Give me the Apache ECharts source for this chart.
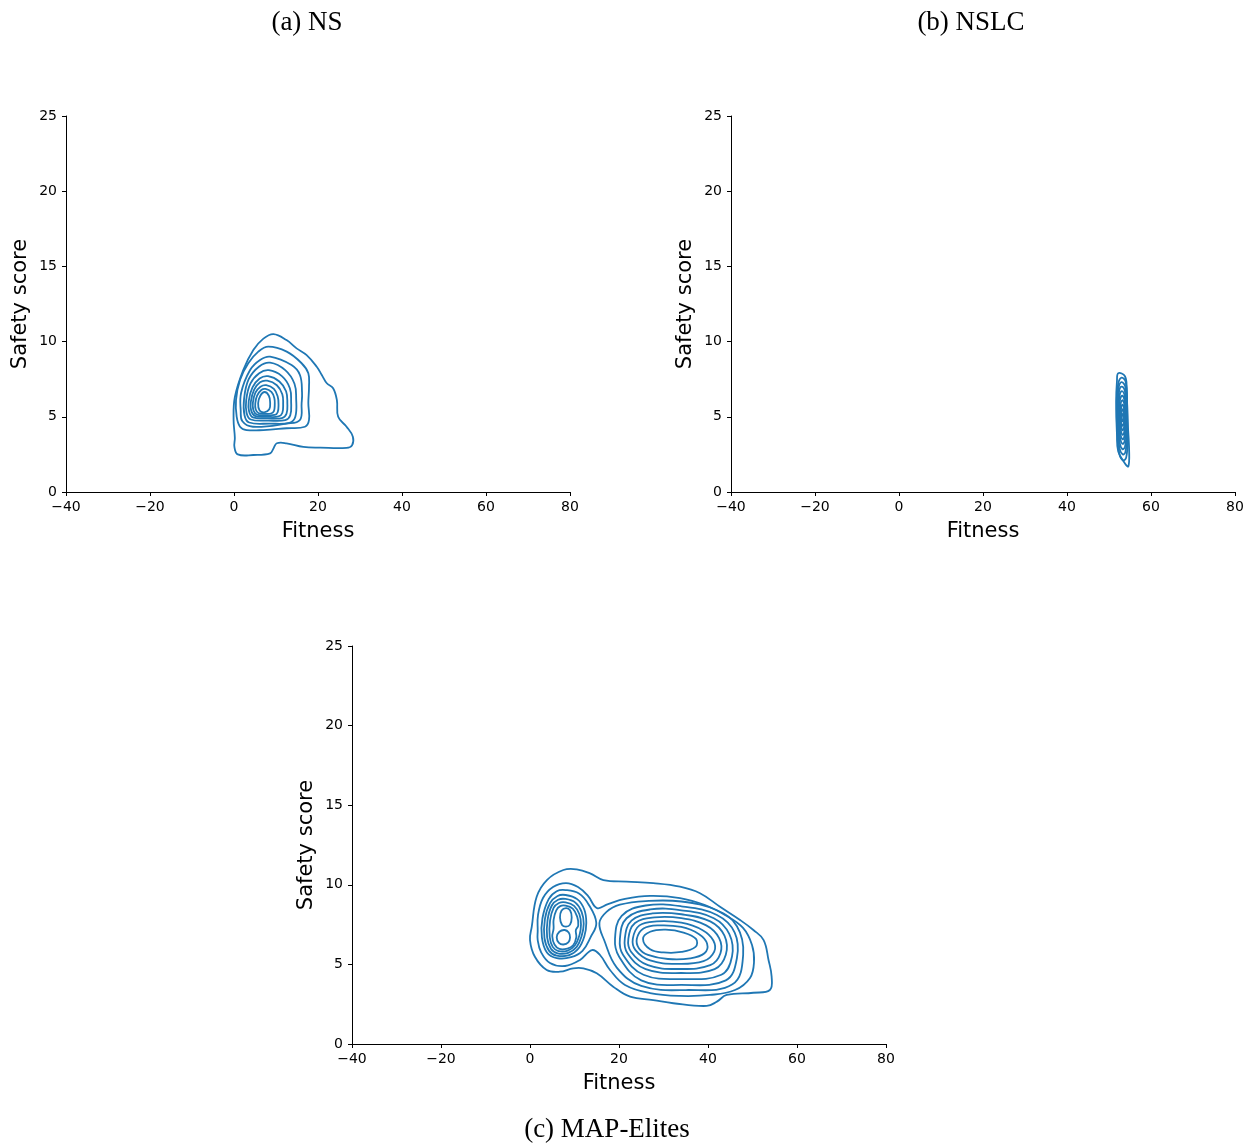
<!DOCTYPE html>
<html>
<head>
<meta charset="utf-8">
<title>Fitness vs safety score</title>
<script src="https://cdn.jsdelivr.net/npm/echarts@6/dist/echarts.min.js"></script>
<style>
  html, body { margin: 0; padding: 0; background: #fff; }
  #chart { width: 1252px; height: 1146px; }
</style>
</head>
<body>
<div id="chart"></div>
<script>
// tick values
const xTicks = [-40, -20, 0, 20, 40, 60, 80]
const yTicks = [0, 5, 10, 15, 20, 25]

// (a) NS - kde contour lines, outer to inner, [fitness, safety]
const nsContours = [
  [[9.4,10.5],[12.5,10.1],[14.9,9.55],[17.3,9.1],[19.7,8.33],[20.9,7.78],[22.1,7.23],[23.6,6.9],[24.5,6.1],[24.8,5.0],[26.8,4.34],[28.3,3.68],[28.1,3.1],[26.8,2.93],[20.5,2.95],[16.5,3.0],[12.5,3.24],[10.2,3.24],[9.4,2.9],[8.6,2.57],[4.6,2.46],[0.9,2.5],[0.1,3.0],[0.2,3.6],[-0.1,4.8],[0.2,6.3],[2.2,8.1],[4.6,9.44],[7,10.2]],
  [[8.17,9.66],[12.55,9.33],[16.1,8.56],[17.7,7.89],[17.86,7.0],[17.7,5.9],[17.86,4.79],[16.9,4.34],[12.55,4.24],[7.0,4.12],[3.0,4.12],[1.43,4.34],[0.64,5.0],[0.48,6.12],[1.43,7.45],[3.4,8.56],[5.79,9.33]],
  [[8.6,9.0],[13.7,8.44],[15.7,7.78],[16.2,6.6],[16.1,5.9],[15.7,4.79],[12.5,4.55],[4.5,4.34],[2.0,4.7],[1.6,5.4],[1.7,6.6],[3.8,8.1],[6.2,8.78]],
  [[8.6,8.6],[12.2,8.1],[14.4,7.2],[14.8,6.2],[14.6,5.0],[13.2,4.6],[8.5,4.55],[3.6,4.62],[2.5,5.1],[2.4,6.2],[3.5,7.5],[6.0,8.35]],
  [[8.3,8.1],[11.4,7.7],[13.3,6.9],[13.6,6.0],[13.4,5.1],[12.2,4.78],[8.2,4.75],[4.0,4.82],[3.0,5.25],[2.9,6.1],[3.9,7.2],[6.0,7.9]],
  [[8.1,7.7],[10.8,7.35],[12.4,6.7],[12.7,5.9],[12.5,5.2],[11.4,4.92],[8.0,4.9],[4.5,4.96],[3.6,5.35],[3.5,6.05],[4.4,6.95],[6.1,7.55]],
  [[7.9,7.4],[10.2,7.1],[11.5,6.5],[11.7,5.85],[11.5,5.25],[10.6,5.02],[7.8,5.0],[5.0,5.06],[4.1,5.4],[4.0,6.0],[4.8,6.8],[6.2,7.3]],
  [[7.7,7.1],[9.5,6.85],[10.4,6.35],[10.6,5.8],[10.4,5.3],[9.7,5.12],[7.6,5.1],[5.4,5.15],[4.6,5.45],[4.5,5.95],[5.1,6.6],[6.3,7.0]],
  [[7.5,6.85],[8.9,6.65],[9.6,6.25],[9.7,5.8],[9.5,5.38],[8.8,5.22],[7.4,5.2],[5.8,5.25],[5.15,5.5],[5.07,5.9],[5.5,6.4],[6.5,6.78]],
  [[7.3,6.65],[8.3,6.4],[8.6,5.95],[8.4,5.5],[7.2,5.3],[6.1,5.42],[5.75,5.9],[6.3,6.42]]
]

// (b) NSLC
const nslcContours = [
  [[52.2,7.9],[53.8,7.7],[54.2,6.9],[54.4,4.9],[54.8,2.7],[54.6,1.7],[53.8,1.9],[52.2,2.7],[51.9,3.8],[51.7,6.0],[51.9,7.4]],
  [[53.0,7.6],[54.0,7.3],[54.3,6.0],[54.45,3.5],[54.1,2.3],[53.4,2.1],[52.5,2.5],[51.95,4.0],[51.85,6.0],[52.2,7.2]],
  [[53.0,7.3],[53.9,7.0],[54.2,5.9],[54.3,3.6],[53.9,2.65],[53.3,2.5],[52.5,2.9],[52.1,4.0],[52.0,5.9],[52.3,6.95]],
  [[53.0,7.0],[53.8,6.7],[54.05,5.8],[54.15,3.8],[53.8,3.0],[53.2,2.85],[52.6,3.2],[52.25,4.1],[52.15,5.8],[52.4,6.7]],
  [[53.05,6.7],[53.7,6.45],[53.95,5.6],[54.0,4.0],[53.7,3.35],[53.2,3.2],[52.7,3.5],[52.35,4.2],[52.3,5.6],[52.5,6.4]],
  [[53.1,6.4],[53.65,6.15],[53.85,5.5],[53.9,4.2],[53.6,3.62],[53.2,3.5],[52.75,3.8],[52.5,4.4],[52.45,5.5],[52.6,6.1]],
  [[53.15,6.1],[53.6,5.9],[53.75,5.3],[53.8,4.4],[53.55,3.9],[53.2,3.8],[52.85,4.05],[52.65,4.6],[52.6,5.3],[52.75,5.85]],
  [[53.2,5.8],[53.55,5.6],[53.68,5.1],[53.7,4.6],[53.5,4.2],[53.2,4.1],[52.95,4.3],[52.78,4.7],[52.75,5.1],[52.9,5.6]],
  [[53.25,5.5],[53.5,5.35],[53.6,5.0],[53.55,4.6],[53.3,4.4],[53.0,4.5],[52.9,4.8],[52.95,5.25]],
  [[53.25,5.2],[53.45,5.1],[53.5,4.95],[53.4,4.75],[53.2,4.7],[53.05,4.8],[53.0,4.95],[53.1,5.12]]
]

// (c) MAP-Elites
const meContours = [
  // outer and second level (both lobes)
  [[7.5,10.93],[10.5,10.97],[13.5,10.72],[16.5,10.3],[21.7,10.2],[27.7,10.1],[33.7,9.88],[38.2,9.47],[42.7,8.62],[47.2,7.79],[50.2,7.16],[52.5,6.53],[53.6,5.28],[54.3,4.23],[53.9,3.39],[50.2,3.22],[44.2,3.08],[42.0,2.66],[39.7,2.39],[32.2,2.56],[27.7,2.76],[22.5,2.97],[18.7,3.6],[15.0,4.44],[12.0,4.75],[9.7,4.75],[6.7,4.54],[3.75,4.65],[1.1,5.48],[0,6.53],[0.4,7.37],[1.5,9.25],[3.8,10.3]],
  [[1.73,7.1],[1.8,8.1],[2.92,9.17],[5.17,9.86],[8.09,10.11],[10.79,9.86],[13.03,9.3],[15.06,8.54],[17.53,8.79],[21.35,9.11],[26.97,9.3],[33.71,9.17],[39.33,8.73],[43.82,8.1],[47.87,7.29],[49.89,6.22],[50.34,5.15],[49.44,4.15],[46.07,3.39],[40.45,3.08],[33.71,3.02],[26.97,3.2],[21.35,3.71],[17.98,4.65],[15.73,5.59],[13.93,5.9],[11.24,5.28],[7.87,4.9],[4.49,5.09],[2.47,5.78],[1.73,6.53]],
  // left lobe
  [[8.0,9.67],[11.0,9.45],[13.2,8.75],[14.9,7.6],[13.6,6.7],[11.8,5.85],[9.2,5.45],[6.0,5.4],[3.8,5.75],[2.67,6.7],[2.8,7.9],[4.2,9.1],[6.0,9.6]],
  [[8.0,9.36],[10.6,9.1],[12.2,8.45],[12.65,7.6],[12.2,6.75],[10.9,6.0],[8.8,5.58],[6.0,5.55],[4.3,5.85],[3.25,6.65],[3.35,7.85],[4.5,8.85],[6.2,9.3]],
  [[8.0,9.11],[10.2,8.88],[11.6,8.3],[12.07,7.55],[11.6,6.78],[10.5,6.1],[8.6,5.73],[6.2,5.7],[4.7,5.98],[3.85,6.7],[3.95,7.8],[4.9,8.7],[6.3,9.06]],
  [[8.0,8.9],[9.9,8.68],[11.1,8.15],[11.46,7.5],[11.1,6.82],[10.1,6.2],[8.5,5.87],[6.4,5.84],[5.1,6.1],[4.43,6.72],[4.5,7.75],[5.3,8.55],[6.5,8.86]],
  [[8.0,8.69],[9.6,8.5],[10.6,8.0],[10.85,7.45],[10.3,7.15],[10.4,6.7],[9.7,6.2],[8.4,5.99],[6.6,5.97],[5.5,6.25],[5.01,6.75],[5.3,7.25],[5.3,7.8],[5.9,8.4],[6.8,8.66]],
  [[8.1,8.54],[9.0,8.4],[9.37,7.95],[9.0,7.5],[8.1,7.37],[7.2,7.48],[6.74,7.95],[7.1,8.38]],
  [[7.8,7.16],[8.7,7.0],[9.0,6.7],[8.6,6.38],[7.5,6.25],[6.5,6.35],[6.0,6.7],[6.6,7.05]],
  // right lobe
  [[15.6,7.6],[17.2,8.3],[20.2,8.75],[26,8.98],[34,8.95],[42,8.4],[46.5,7.4],[47.9,5.6],[45.5,3.75],[35,3.39],[25,3.65],[19.5,4.8],[16.7,6.5]],
  [[19.1,6.6],[20.6,8.05],[26,8.7],[34,8.65],[42,8.1],[46,7.0],[46.5,5.4],[44,4.0],[34,3.71],[25,4.0],[20,5.5]],
  [[20.2,6.6],[21.7,7.9],[27,8.45],[34,8.4],[41.3,7.9],[44.8,6.9],[45.4,5.5],[43,4.35],[34,4.08],[25.5,4.35],[20.9,5.6]],
  [[21.3,6.6],[22.8,7.75],[27.5,8.2],[34,8.15],[40.5,7.7],[43.7,6.8],[44.0,5.6],[41.5,4.7],[34,4.46],[26,4.7],[21.9,5.7]],
  [[22.1,6.6],[23.6,7.6],[28,7.95],[34,7.9],[39.6,7.45],[42.5,6.65],[42.8,5.7],[40.5,4.95],[33.5,4.71],[26.5,4.95],[22.7,5.8]],
  [[23.1,6.6],[24.6,7.45],[28.5,7.7],[34,7.62],[38.8,7.15],[41.2,6.5],[41.4,5.8],[39,5.2],[33,5.03],[27,5.25],[23.7,5.9]],
  [[24.0,6.6],[25.5,7.25],[29,7.45],[34,7.35],[38,6.9],[39.8,6.3],[39.2,5.7],[36,5.38],[31,5.34],[26.5,5.6],[24.5,6.0]],
  [[25.4,6.6],[27,7.05],[30.5,7.18],[34.5,7.0],[37.3,6.6],[37.2,6.1],[34,5.78],[30,5.75],[27,5.95]]
]

const panelTitles = ['(a) NS', '(b) NSLC', '(c) MAP-Elites']

const lineColor = '#1f77b4'
const sans = 'DejaVu Sans'

const grids = [
  { left: 66, top: 116, width: 504, height: 376 },
  { left: 731, top: 116, width: 504, height: 376 },
  { left: 352, top: 646, width: 534, height: 398 }
]

function minusSign(v) {
  return String(v).replace('-', '\u2212')
}

function xAxisFor(i) {
  return {
    gridIndex: i, type: 'value', min: xTicks[0], max: xTicks[xTicks.length - 1], interval: 20,
    name: 'Fitness', nameLocation: 'middle', nameGap: 29,
    nameTextStyle: { fontFamily: sans, fontSize: 21, color: '#000' },
    axisLine: { onZero: false, lineStyle: { color: '#000', width: 1 } },
    axisTick: { length: 4, lineStyle: { color: '#000', width: 1 } },
    axisLabel: { color: '#000', fontFamily: sans, fontSize: 14, margin: 8, formatter: minusSign },
    splitLine: { show: false }
  }
}

function yAxisFor(i) {
  return {
    gridIndex: i, type: 'value', min: yTicks[0], max: yTicks[yTicks.length - 1], interval: 5,
    name: 'Safety score', nameLocation: 'middle', nameGap: 35,
    nameTextStyle: { fontFamily: sans, fontSize: 21, color: '#000' },
    axisLine: { show: true, onZero: false, lineStyle: { color: '#000', width: 1 } },
    axisTick: { show: true, length: 4, lineStyle: { color: '#000', width: 1 } },
    axisLabel: { color: '#000', fontFamily: sans, fontSize: 14, margin: 9 },
    splitLine: { show: false }
  }
}

// one custom series per contour: a closed, smoothed loop through its points
function contourSeries(pts, axisIdx) {
  return {
    type: 'custom', xAxisIndex: axisIdx, yAxisIndex: axisIdx,
    coordinateSystem: 'cartesian2d', silent: true, clip: true,
    data: pts,
    renderItem: (params, api) => {
      if (params.dataIndex !== 0) return
      const points = pts.map(p => api.coord(p))
      return {
        type: 'polygon',
        shape: { points: points, smooth: 0.4 },
        style: { fill: 'none', stroke: lineColor, lineWidth: 1.8 }
      }
    }
  }
}

const series = []
;[nsContours, nslcContours, meContours].forEach((set, i) => {
  set.forEach(pts => series.push(contourSeries(pts, i)))
})

function titleText(text, x, y) {
  return {
    type: 'text', x: x, y: y,
    style: { text: text, font: '27px "Liberation Serif"', fill: '#000', textAlign: 'center', verticalAlign: 'middle' }
  }
}

const chart = echarts.init(document.getElementById('chart'))
chart.setOption({
  animation: false,
  backgroundColor: '#fff',
  grid: grids,
  xAxis: [0, 1, 2].map(xAxisFor),
  yAxis: [0, 1, 2].map(yAxisFor),
  series: series,
  graphic: [
    titleText(panelTitles[0], 307, 23),
    titleText(panelTitles[1], 971, 23),
    titleText(panelTitles[2], 607, 1130)
  ]
})
</script>
</body>
</html>
